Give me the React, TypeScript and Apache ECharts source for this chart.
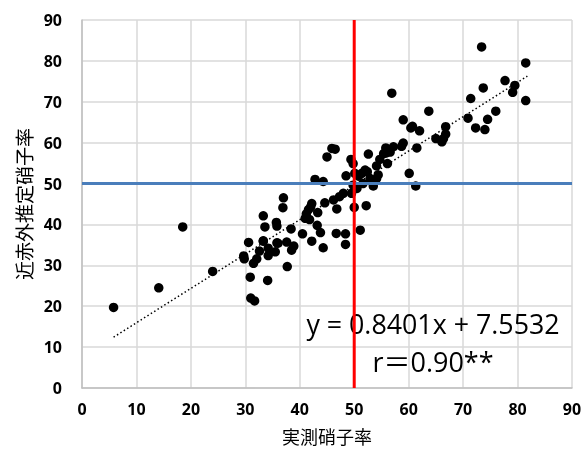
import React, { useEffect, useRef } from "react";
import * as echarts from "echarts";

const xTicks = [0, 10, 20, 30, 40, 50, 60, 70, 80, 90];
const measured: number[] = [
  5.8, 14.1, 18.5, 24.0, 29.7, 29.8, 30.6, 30.9, 31.0, 31.7, 31.5, 32.1, 32.6, 33.3, 33.3, 33.6, 34.1, 34.2, 34.2, 35.5,
  35.7, 35.8, 36.0, 37.0, 36.9, 37.6, 37.7, 38.4, 38.5, 38.9, 40.5, 41.0, 41.2, 41.6, 42.0, 42.2, 42.2, 43.3, 43.2, 43.8,
  44.3, 44.6, 42.8, 44.3, 45.0, 45.9, 46.5, 46.2, 46.8, 46.7, 47.3, 48.0, 48.4, 48.4, 48.5, 49.4, 49.8, 49.5, 49.8, 50.5,
  50.0, 50.1, 50.8, 51.1, 51.4, 51.6, 52.0, 52.4, 52.6, 52.2, 52.9, 53.5, 54.1, 54.1, 54.4, 54.7, 55.4, 55.8, 55.9, 56.1,
  56.6, 56.9, 57.2, 58.7, 59.0, 59.0, 60.1, 60.4, 60.7, 61.3, 61.5, 62.0, 63.7, 65.0, 66.1, 66.4, 66.8, 66.8, 70.9, 71.4,
  72.3, 73.4, 73.7, 74.0, 74.5, 76.0, 77.7, 79.1, 79.5, 81.5, 81.5, 41.8, 33.3, 35.8,
];
const estimated: number[] = [
  19.7, 24.5, 39.4, 28.5, 32.3, 31.6, 35.6, 27.1, 22.0, 21.3, 30.5, 31.6, 33.5, 35.9, 42.1, 39.4, 26.3, 34.2, 32.4, 33.3,
  40.5, 39.6, 35.4, 46.5, 44.1, 35.7, 29.7, 38.9, 33.7, 34.7, 37.7, 41.5, 42.6, 43.6, 44.3, 45.1, 35.9, 42.9, 39.8, 38.0,
  34.3, 45.3, 51.0, 50.5, 56.5, 58.6, 58.4, 46.0, 43.8, 37.8, 46.8, 47.6, 37.7, 35.1, 51.9, 55.9, 54.9, 47.6, 49.6, 48.8,
  44.2, 52.5, 51.8, 38.6, 52.5, 50.0, 53.3, 52.9, 57.2, 44.6, 51.2, 49.4, 54.3, 51.2, 52.1, 55.9, 57.3, 58.7, 57.5, 54.9,
  57.7, 72.1, 59.0, 59.1, 59.9, 65.6, 52.5, 63.6, 64.0, 49.4, 58.7, 62.9, 67.7, 61.0, 60.2, 61.0, 62.1, 63.9, 66.0, 70.8,
  63.6, 83.4, 73.4, 63.2, 65.7, 67.7, 75.2, 72.3, 74.0, 79.5, 70.3, 41.2, 36.0, 35.5,
];
const slope = 0.8401;
const intercept = 7.5532;
const trendRange = [5.8, 81.8];
const thresholdX = 50;
const thresholdY = 50;
const equationText = "y = 0.8401x + 7.5532";
const rText = "r＝0.90**";
const xName = "実測硝子率";
const yName = "近赤外推定硝子率";

export default function App() {
  const ref = useRef<HTMLDivElement>(null);
  useEffect(() => {
    if (!ref.current) return;
    const chart = echarts.init(ref.current, null, { renderer: "svg" });
    const points = measured.map((x, i) => [x, estimated[i]]);
    const trend = trendRange.map((x) => [x, slope * x + intercept]);
    const tickFont = { fontFamily: "'Noto Sans', sans-serif", fontWeight: "bold" as const, fontSize: 16, color: "#000" };
    chart.setOption({
      animation: false,
      grid: { left: 82, right: 14, top: 20, bottom: 61, containLabel: false, outerBoundsMode: "none" },
      xAxis: {
        type: "value",
        min: xTicks[0],
        max: xTicks[xTicks.length - 1],
        interval: 10,
        name: xName,
        nameLocation: "middle",
        nameGap: 39,
        nameTextStyle: { fontFamily: "'Noto Sans CJK JP', sans-serif", fontSize: 18, lineHeight: 18, color: "#000" },
        axisLine: { show: true, lineStyle: { color: "#bfbfbf", width: 1.5 } },
        axisTick: { show: false },
        axisLabel: { ...tickFont, margin: 13 },
        splitLine: { show: true, lineStyle: { color: "#d9d9d9", width: 1.5 } },
      },
      yAxis: {
        type: "value",
        min: 0,
        max: 90,
        interval: 10,
        name: yName,
        nameLocation: "middle",
        nameGap: 48,
        nameRotate: 90,
        nameTextStyle: { fontFamily: "'Noto Sans CJK JP', sans-serif", fontSize: 19, color: "#000" },
        axisLine: { show: true, lineStyle: { color: "#bfbfbf", width: 1.5 } },
        axisTick: { show: false },
        axisLabel: { ...tickFont, margin: 20 },
        splitLine: { show: true, lineStyle: { color: "#d9d9d9", width: 1.5 } },
      },
      graphic: [
        {
          type: "text",
          x: 433,
          y: 323,
          z: 1,
          style: {
            text: equationText,
            font: "26.8px 'Open Sans', sans-serif",
            fill: "#000",
            textAlign: "center",
            textVerticalAlign: "middle",
          },
        },
        {
          type: "text",
          x: 433,
          y: 361,
          z: 1,
          style: {
            text: rText,
            font: "27px 'Open Sans', 'Noto Sans CJK JP', sans-serif",
            fill: "#000",
            textAlign: "center",
            textVerticalAlign: "middle",
          },
        },
      ],
      series: [
        {
          type: "scatter",
          data: points,
          symbol: "circle",
          symbolSize: 9.5,
          itemStyle: { color: "#000", opacity: 1 },
          z: 3,
        },
        {
          type: "line",
          data: trend,
          showSymbol: false,
          lineStyle: { color: "#000", width: 1.5, type: [1.5, 2.5] },
          z: 4,
        },
        {
          type: "line",
          data: [
            [0, thresholdY],
            [90, thresholdY],
          ],
          showSymbol: false,
          lineStyle: { color: "#4a7ebb", width: 3 },
          z: 5,
        },
        {
          type: "line",
          data: [
            [thresholdX, 0],
            [thresholdX, 90],
          ],
          showSymbol: false,
          lineStyle: { color: "#ff0000", width: 3 },
          z: 6,
        },
      ],
    });
    return () => chart.dispose();
  }, []);
  return <div ref={ref} style={{ width: 586, height: 449, position: "fixed", left: 0, top: 0 }} />;
}
